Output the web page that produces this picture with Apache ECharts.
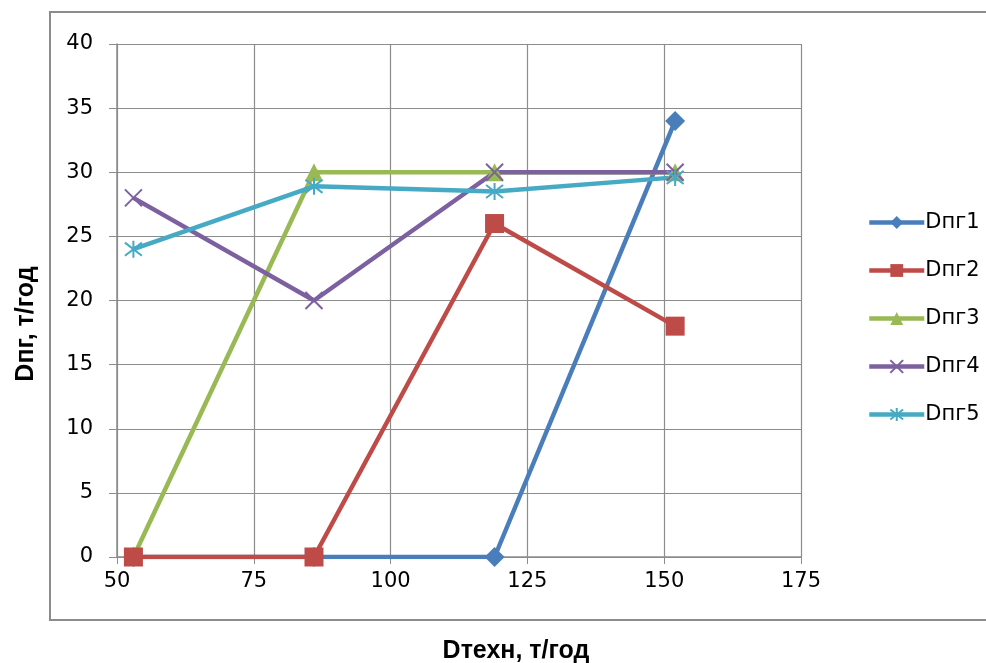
<!DOCTYPE html>
<html><head><meta charset="utf-8">
<script src="https://cdn.jsdelivr.net/npm/echarts@6/dist/echarts.min.js"></script>
<style>html,body{margin:0;padding:0;background:#fff}#c{width:986px;height:663px}</style>
</head><body><div id="c"></div>
<script>
const xValues = [53, 86, 119, 152];
const seriesNames = ['Dпг1', 'Dпг2', 'Dпг3', 'Dпг4', 'Dпг5'];
const d1 = [0, 0, 0, 34];
const d2 = [0, 0, 26, 18];
const d3 = [0, 30, 30, 30];
const d4 = [28, 20, 30, 30];
const d5 = [24, 28.9, 28.5, 29.6];
const xTicks = [50, 75, 100, 125, 150, 175];
const yTicks = [0, 5, 10, 15, 20, 25, 30, 35, 40];
const xTitle = 'Dтехн, т/год';
const yTitle = 'Dпг, т/год';

const colors = ['#4a7ebb', '#be4b48', '#98b954', '#7d60a0', '#46aac5'];
const symbols = [
  'diamond', 'rect', 'triangle',
  'path://M0,0L10,10M10,0L0,10',
  'path://M0,0L10,10M10,0L0,10M5,-1.5L5,11.5'
];
const sizes = [20, 19, 18, 17, 17];
const allData = [d1, d2, d3, d4, d5];

const chart = echarts.init(document.getElementById('c'));
const series = allData.map((d, i) => {
  const stroke = i >= 3;
  return {
    name: seriesNames[i],
    type: 'line',
    data: d.map((v, k) => [xValues[k], v]),
    symbol: symbols[i],
    symbolSize: sizes[i],
    showAllSymbol: true,
    lineStyle: { color: colors[i], width: 4.5 },
    itemStyle: stroke ? { color: 'rgba(0,0,0,0)', borderColor: colors[i], borderWidth: 2 } : { color: colors[i], borderWidth: 0 },
    emphasis: { disabled: true },
    z: 2 + (i === 1 ? 1 : 0),
    animation: false
  };
});
chart.setOption({
  animation: false,
  grid: { left: 117, right: 185, top: 44, bottom: 106 },
  xAxis: {
    type: 'value', min: xTicks[0], max: xTicks[xTicks.length - 1], interval: 25,
    axisLine: { lineStyle: { color: '#8c8c8c', width: 1.5 } },
    axisTick: { show: true, length: 7, lineStyle: { color: '#8c8c8c' } },
    axisLabel: { color: '#000', fontFamily: 'DejaVu Sans', fontSize: 21, margin: 14 },
    splitLine: { show: true, lineStyle: { color: '#8c8c8c', width: 1.2 } }
  },
  yAxis: {
    type: 'value', min: yTicks[0], max: yTicks[yTicks.length - 1], interval: 5,
    axisLine: { show: true, lineStyle: { color: '#8c8c8c', width: 1.5 } },
    axisTick: { show: true, length: 8, lineStyle: { color: '#8c8c8c' } },
    axisLabel: { color: '#000', fontFamily: 'DejaVu Sans', fontSize: 21, margin: 24 },
    splitLine: { show: true, lineStyle: { color: '#8c8c8c', width: 1.2 } }
  },
  legend: {
    orient: 'vertical', left: 862, top: 207, itemWidth: 55, itemHeight: 16, itemGap: 27,
    itemStyle: { borderWidth: 2 },
    lineStyle: { width: 4.5 },
    textStyle: { color: '#000', fontFamily: 'DejaVu Sans', fontSize: 21, padding: [0, 0, 0, -4] },
    data: seriesNames
  },
  graphic: [
    { type: 'rect', shape: { x: 50, y: 12, width: 960, height: 608 }, style: { fill: 'none', stroke: '#8c8c8c', lineWidth: 2 }, silent: true, z: -1 },
    { type: 'text', x: 516, y: 651, style: { text: xTitle, font: 'bold 25px "Liberation Sans"', fill: '#000', align: 'center', verticalAlign: 'middle' } },
    { type: 'text', x: 26, y: 324, rotation: Math.PI / 2, style: { text: yTitle, font: 'bold 25px "Liberation Sans"', fill: '#000', align: 'center', verticalAlign: 'middle' } }
  ],
  series: series
});
</script></body></html>
